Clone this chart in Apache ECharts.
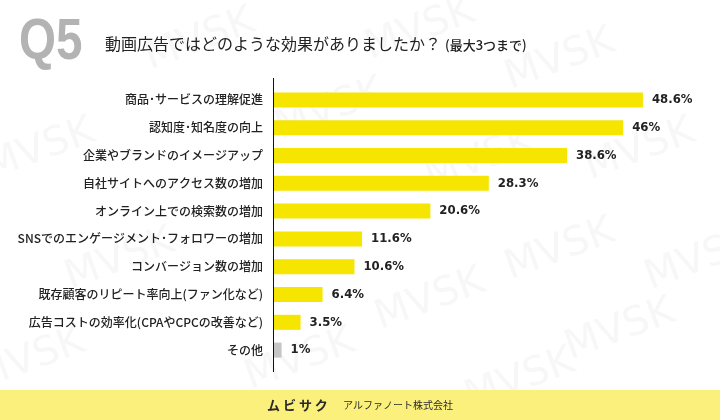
<!DOCTYPE html>
<html><head><meta charset="utf-8">
<script src="https://cdn.jsdelivr.net/npm/echarts@6/dist/echarts.min.js"></script>
<style>html,body{margin:0;padding:0;background:#fff}#c{width:720px;height:420px}</style>
</head><body><div id="c"></div>
<script>
const categories = [
  "商品･サービスの理解促進",
  "認知度･知名度の向上",
  "企業やブランドのイメージアップ",
  "自社サイトへのアクセス数の増加",
  "オンライン上での検索数の増加",
  "SNSでのエンゲージメント･フォロワーの増加",
  "コンバージョン数の増加",
  "既存顧客のリピート率向上(ファン化など)",
  "広告コストの効率化(CPAやCPCの改善など)",
  "その他"
];
const values = [48.6, 46, 38.6, 28.3, 20.6, 11.6, 10.6, 6.4, 3.5, 1];
const otherIndex = 9;
const titleQ = "Q5";
const titleText = "動画広告ではどのような効果がありましたか？";
const titleNote = "(最大3つまで)";
const footerBrand = "ムビサク";
const footerCompany = "アルファノート株式会社";

const chart = echarts.init(document.getElementById('c'), null, {renderer: 'canvas'});

const wm = [];
const wmPos = [[40,150],[120,260],[30,360],[200,40],[330,110],[420,30],[560,60],[640,150],[480,160],[560,250],[430,300],[620,330],[300,360],[520,380],[700,260]];
wmPos.forEach(p => wm.push({type:'text', x:p[0], y:p[1], rotation:0.35, z:-10, silent:true,
  style:{text:'MVSK', fill:'#f8f7f8', font:'40px "DejaVu Sans"', textAlign:'center', textVerticalAlign:'middle'}}));

chart.setOption({
  backgroundColor: '#ffffff',
  animation: false,
  grid: {left: 274, right: 28.5, top: 86, height: 278, containLabel: false},
  xAxis: {type: 'value', min: 0, max: 55, show: false},
  yAxis: {
    type: 'category', data: categories, inverse: true,
    axisLine: {show: false}, axisTick: {show: false},
    axisLabel: {color: '#222', fontSize: 12, margin: 11, fontFamily: '"Noto Sans CJK JP"', fontWeight: 500}
  },
  series: [{
    type: 'bar', barWidth: 15,
    data: values.map((v, i) => ({value: v, itemStyle: {color: i === otherIndex ? '#c6c6c6' : '#f5e500'}})),
    label: {show: true, position: 'right', distance: 9, formatter: p => p.value + '%',
      color: '#222', fontSize: 13, fontFamily: '"DejaVu Sans Condensed"', fontWeight: 'bold'}
  }],
  graphic: wm.concat([
    {type: 'line', z: 10, shape: {x1: 273.5, y1: 78, x2: 273.5, y2: 372}, style: {stroke: '#111', lineWidth: 1}},
    {type: 'text', x: 19, y: 72, scaleX: 0.82, style: {text: titleQ, fill: '#b3b3b3', font: 'bold 58px "Liberation Sans"', textVerticalAlign: 'bottom'}},
    {type: 'text', x: 105, y: 44, style: {text: titleText, fill: '#222', font: '16px "Noto Sans CJK JP"', textVerticalAlign: 'middle'}},
    {type: 'text', x: 445, y: 45, style: {text: titleNote, fill: '#222', font: '500 13px "Noto Sans CJK JP"', textVerticalAlign: 'middle'}},
    {type: 'rect', shape: {x: 0, y: 390, width: 720, height: 30}, style: {fill: '#fbf07b'}},
    {type: 'text', x: 267, y: 405, style: {text: footerBrand.split('').join(' '), fill: '#2a2a2a', font: 'bold 13px "Noto Sans CJK JP"', textVerticalAlign: 'middle'}},
    {type: 'text', x: 343, y: 405, style: {text: footerCompany, fill: '#2a2a2a', font: '10px "Noto Sans CJK JP"', textVerticalAlign: 'middle'}}
  ])
});
</script></body></html>
